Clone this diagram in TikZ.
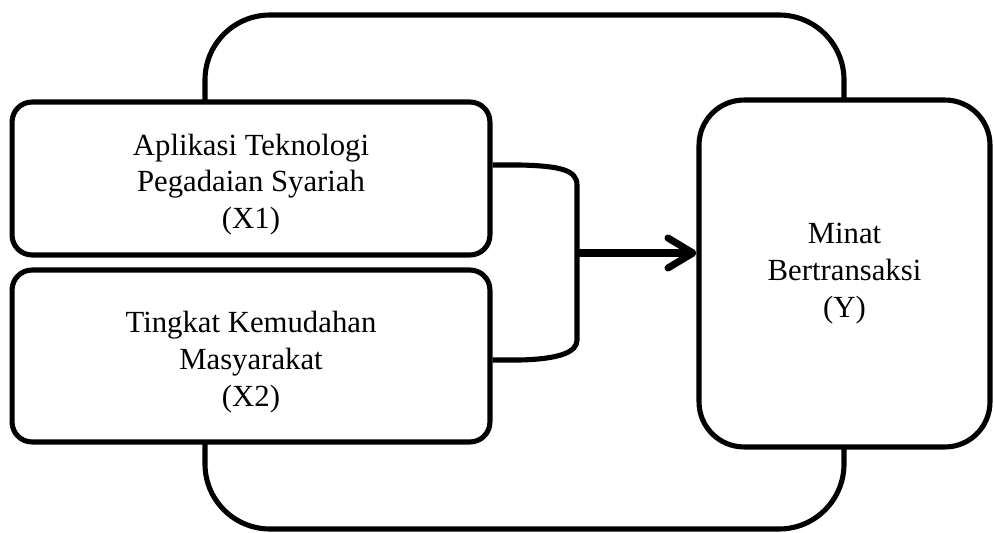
\documentclass[tikz,border=0pt]{standalone}
\usepackage{fontspec}
\setmainfont{Liberation Serif}
\usetikzlibrary{arrows.meta, positioning}

\begin{document}
\begin{tikzpicture}[x=0.02cm, y=-0.02cm,
    frame/.style={line width=2.9pt},
    varbox/.style={draw, line width=2.9pt, fill=white, rounded corners=0.4cm,
        align=center, font=\fontsize{17.5}{21}\selectfont, inner sep=0pt},
    link/.style={line width=2.9pt},
    pushline/.style={line width=4pt, -{Straight Barb[length=5mm, width=6mm, round]}}]
    \useasboundingbox (0,0) rectangle (994,533);

    % outer frame, top and bottom halves
    \draw[frame, rounded corners=1.3cm] (205,102) -- (205,15) -- (844,15) -- (844,100);
    \draw[frame, rounded corners=1.3cm] (205,442) -- (205,529) -- (844,529) -- (844,447);

    % variables
    \node[varbox, text height=61pt, minimum width=9.56cm, minimum height=3.06cm] (x1) at (251,178.5)
        {Aplikasi Teknologi\\Pegadaian Syariah\\(X1)};
    \node[varbox, text height=61pt, minimum width=9.56cm, minimum height=3.44cm] (x2) at (251,356)
        {Tingkat Kemudahan\\Masyarakat\\(X2)};
    \node[varbox, rounded corners=0.9cm, minimum width=5.82cm, minimum height=6.94cm] (y) at (844.5,273.5)
        {Minat\\Bertransaksi\\(Y)};

    % bracket joining X1 and X2
    \coordinate (joint) at (577,253);
    \draw[link] (x1.east |- 0,165) -- (520,165) .. controls (560,166) and (577,170) .. (577,185)
        -- (577,340) .. controls (577,352) and (560,359) .. (520,360) -- (x2.east |- 0,360);

    % arrow to Y
    \draw[pushline] (joint) -- (y.west |- joint);
\end{tikzpicture}
\end{document}
